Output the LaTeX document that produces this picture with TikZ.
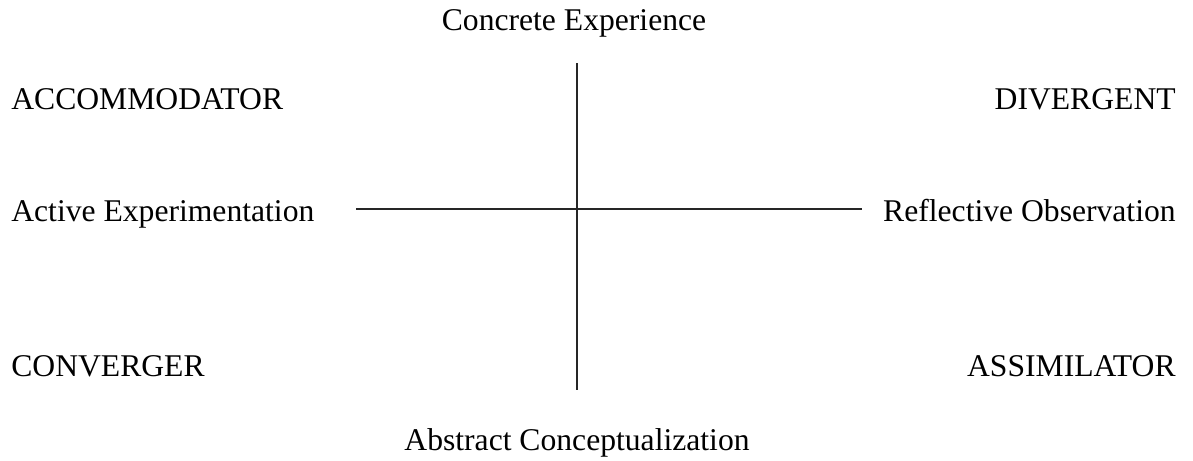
\documentclass[tikz,border=0pt]{standalone}
\usepackage{fontspec}
\setmainfont{Liberation Serif}
\usetikzlibrary{positioning}

\begin{document}
\begin{tikzpicture}[
    x=0.02cm, y=-0.02cm,
    font=\fontsize{18pt}{22pt}\selectfont,
    % Text Styles
    label/.style={inner sep=0pt, anchor=base west},
    labelR/.style={inner sep=0pt, anchor=base east},
    pole/.style={inner sep=0pt, anchor=base},
    % Axis Style
    axis/.style={line width=1.3pt, draw=black!85}
]
    \useasboundingbox (0,0) rectangle (1193,460);

    % --- POLES ---
    \node[pole] (ce) at (574,30) {Concrete Experience};
    \node[pole] (ac) at (577,450) {Abstract Conceptualization};
    \node[label] (ae) at (11,221) {Active Experimentation};
    \node[labelR] (ro) at (1176,221) {Reflective Observation};

    % --- STYLES ---
    \node[label] (acc) at (11,109) {ACCOMMODATOR};
    \node[labelR] (div) at (1176,109) {DIVERGENT};
    \node[label] (con) at (11,376) {CONVERGER};
    \node[labelR] (ass) at (1176,376) {ASSIMILATOR};

    % --- AXES ---
    \coordinate (top) at (577,63);
    \coordinate (bot) at (577,390);
    \coordinate (left) at (356,209);
    \coordinate (right) at (862,209);

    \draw[axis] (top) -- (bot);
    \draw[axis] (left) -- (right);

\end{tikzpicture}
\end{document}
